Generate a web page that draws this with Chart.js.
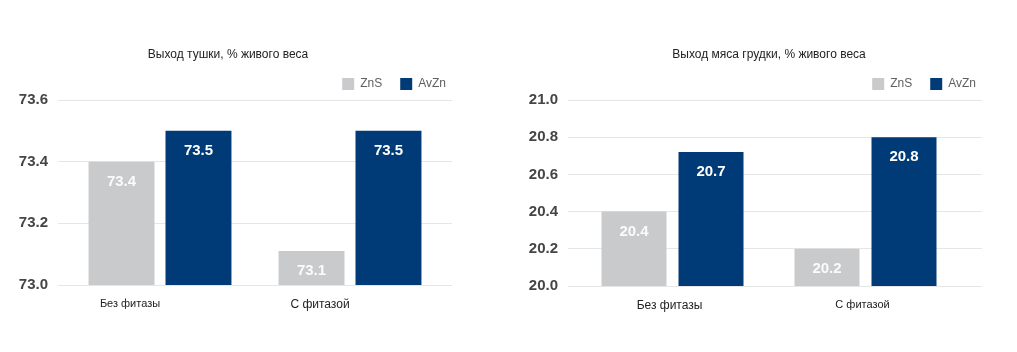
<!DOCTYPE html>
<html>
<head>
<meta charset="utf-8">
<script src="https://cdn.jsdelivr.net/npm/chart.js@4"></script>
<style>
  html, body { margin: 0; padding: 0; background: #ffffff; width: 1017px; height: 352px; overflow: hidden; }
  canvas { position: absolute; top: 0; }
  #c1 { left: 0px; }
  #c2 { left: 500px; }
</style>
</head>
<body>
<canvas id="c1" width="456" height="352"></canvas>
<canvas id="c2" width="517" height="352"></canvas>
<script>
// ---- data ----
const categories = ['Без фитазы', 'С фитазой'];
const seriesNames = ['ZnS', 'AvZn'];
const carcassTitle = 'Выход тушки, % живого веса';
const carcassZnS = [73.4, 73.11];
const carcassAvZn = [73.5, 73.5];
const carcassTicks = [73.0, 73.2, 73.4, 73.6];
const breastTitle = 'Выход мяса грудки, % живого веса';
const breastZnS = [20.4, 20.2];
const breastAvZn = [20.72, 20.8];
const breastTicks = [20.0, 20.2, 20.4, 20.6, 20.8, 21.0];

const GRAY = '#c9cacc';
const NAVY = '#003b77';
const SANS = '"Liberation Sans", Arial, Helvetica, sans-serif';

// value labels + soft bottom glow drawn from the bar elements
const barDecor = {
  id: 'barDecor',
  afterDatasetsDraw(chart) {
    const ctx = chart.ctx;
    chart.data.datasets.forEach((ds, di) => {
      const meta = chart.getDatasetMeta(di);
      meta.data.forEach((el, i) => {
        const w = el.width, x = el.x, top = el.y, base = el.base;
        ctx.save();
        ctx.beginPath();
        ctx.rect(x - w / 2, top, w, base - top);
        ctx.clip();
        ctx.translate(x, base + 2);
        ctx.scale(1, 0.28);
        const r = w * 0.55;
        const g = ctx.createRadialGradient(0, 0, 0, 0, 0, r);
        const a = di === 0 ? 0.9 : 0.75;
        g.addColorStop(0, 'rgba(255,255,255,' + a + ')');
        g.addColorStop(0.5, 'rgba(255,255,255,' + (a * 0.45) + ')');
        g.addColorStop(1, 'rgba(255,255,255,0)');
        ctx.fillStyle = g;
        ctx.fillRect(-r, -r, 2 * r, 2 * r);
        ctx.restore();
        ctx.save();
        ctx.font = 'bold 15px ' + SANS;
        ctx.textAlign = 'center';
        ctx.textBaseline = 'middle';
        ctx.fillStyle = di === 0 ? 'rgba(255,255,255,0.92)' : '#ffffff';
        ctx.fillText(ds.data[i].toFixed(1), x, top + 20);
        ctx.restore();
      });
    });
  }
};

function makeChart(id, title, zns, avzn, ticks, cfg) {
  const step = +(ticks[1] - ticks[0]).toFixed(4);
  const yCommon = { min: ticks[0], max: ticks[ticks.length - 1] };
  return new Chart(document.getElementById(id), {
    type: 'bar',
    data: {
      labels: categories,
      datasets: [
        { label: seriesNames[0], data: zns, backgroundColor: GRAY, borderWidth: 0 },
        { label: seriesNames[1], data: avzn, backgroundColor: NAVY, borderWidth: 0 }
      ]
    },
    options: {
      responsive: false,
      animation: false,
      devicePixelRatio: 1,
      categoryPercentage: cfg.catPct,
      barPercentage: cfg.barPct,
      layout: { padding: { left: cfg.padL, right: cfg.padR, top: 0, bottom: 0 } },
      plugins: {
        tooltip: { enabled: false },
        title: {
          display: true,
          fullSize: cfg.titleFull,
          text: title,
          color: '#222222',
          font: { family: SANS, size: 12, weight: 'normal' },
          padding: { top: 47, bottom: 10.6 }
        },
        legend: {
          display: true,
          align: 'end',
          labels: {
            boxWidth: 12,
            boxHeight: 12,
            padding: 6,
            color: '#606060',
            font: { family: SANS, size: 12 },
            generateLabels(chart) {
              const items = Chart.defaults.plugins.legend.labels.generateLabels(chart);
              items.forEach((it, k) => { if (k < items.length - 1) it.text = it.text + '\u2002\u2002'; it.lineWidth = 0; });
              return items;
            }
          }
        }
      },
      scales: {
        x: {
          grid: { display: false, drawTicks: false },
          border: { display: false },
          ticks: {
            color: '#222222',
            font: (c) => ({ family: SANS, size: cfg.xFont[c.index] || 12 }),
            padding: 12,
            labelOffset: cfg.labelOffset,
            maxRotation: 0
          },
          afterFit(s) { s.height = cfg.xHeight; }
        },
        y: Object.assign({}, yCommon, {
          position: 'left',
          grid: { color: '#e6e6e6', lineWidth: 1, drawTicks: true, tickLength: cfg.tickL, tickColor: '#e6e6e6' },
          border: { display: false },
          ticks: {
            stepSize: step,
            padding: 10,
            color: '#454545',
            font: { family: SANS, size: 15, weight: 'bold' },
            callback: v => (+v).toFixed(1)
          },
          afterFit(s) { s.width = cfg.yWidth; }
        }),
        y2: Object.assign({}, yCommon, {
          position: 'right',
          grid: { drawOnChartArea: false, color: '#e6e6e6', drawTicks: true, tickLength: cfg.tickR, tickColor: '#e6e6e6' },
          border: { display: false },
          ticks: { display: false, stepSize: step }
        })
      }
    },
    plugins: [barDecor]
  });
}

makeChart('c1', carcassTitle, carcassZnS, carcassAvZn, carcassTicks, {
  catPct: 0.81, barPct: 0.857, padL: 4, padR: 4, yWidth: 61, tickL: 7, tickR: 7,
  xHeight: 67, labelOffset: -30, xFont: [11, 12], titleFull: true
});
makeChart('c2', breastTitle, breastZnS, breastAvZn, breastTicks, {
  catPct: 0.798, barPct: 0.844, padL: 20, padR: 35, yWidth: 56, tickL: 8, tickR: 20,
  xHeight: 66, labelOffset: -3, xFont: [12, 11], titleFull: false
});
</script>
</body>
</html>
